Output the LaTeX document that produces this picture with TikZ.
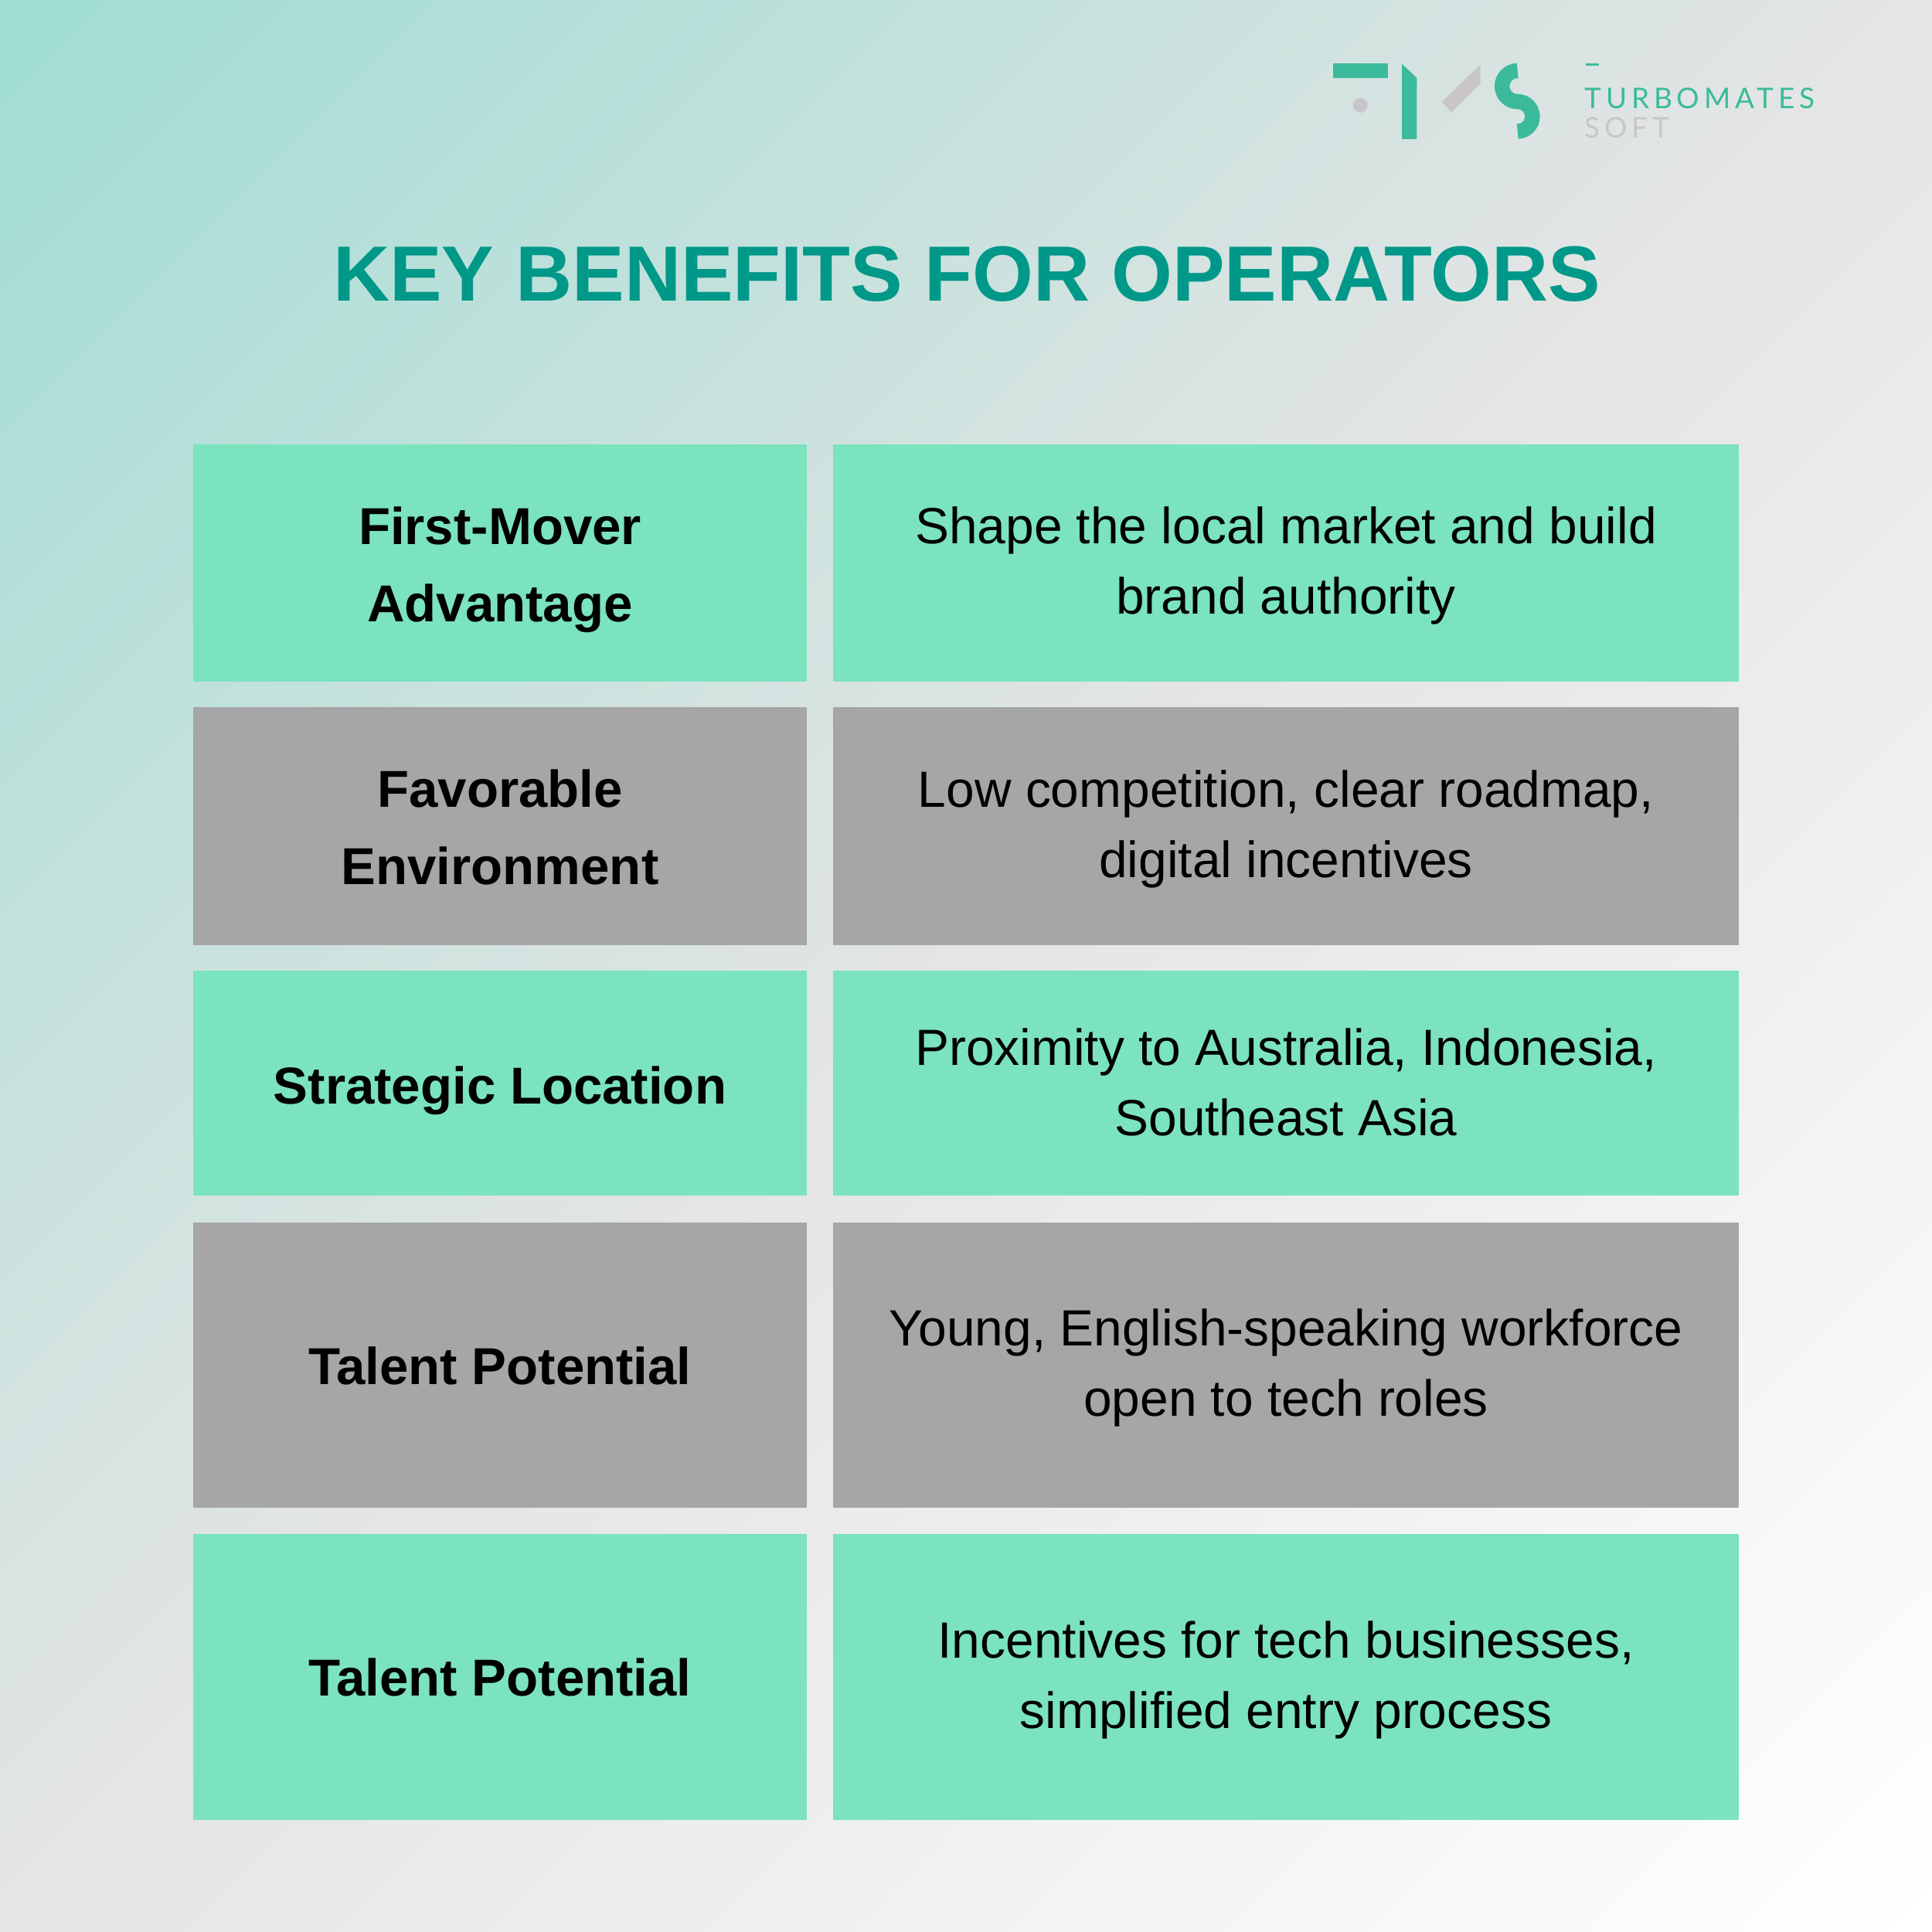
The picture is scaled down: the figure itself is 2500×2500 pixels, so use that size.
\documentclass[tikz,border=0pt]{standalone}
\usepackage{fontspec}
\setmainfont{Liberation Sans}
\newfontfamily\logofont[LetterSpace=16]{Lato}
\definecolor{boxgreen}{HTML}{7BE3BE}
\definecolor{boxgray}{HTML}{A6A6A6}
\definecolor{titleteal}{HTML}{009888}
\definecolor{logogreen}{HTML}{3BBB9B}
\definecolor{logogray}{HTML}{C9C5C9}
\definecolor{bgstart}{HTML}{9FDDD3}
\definecolor{bgmid}{HTML}{E5E5E5}
\pgfdeclareverticalshading{bgshade}{100bp}{
  color(0bp)=(white); color(14.6bp)=(white); color(50bp)=(bgmid); color(85.4bp)=(bgstart); color(100bp)=(bgstart)}
\tikzset{
  x=0.02cm,y=-0.02cm,
  cellbox/.style={rectangle,draw=none,inner sep=0pt,outer sep=0pt},
  leftbox/.style={cellbox,minimum width=15.88cm},
  rightbox/.style={cellbox,minimum width=23.44cm},
  headtext/.style={inner sep=0pt,align=center,text=black,font=\fontsize{38.25pt}{56.9pt}\selectfont\bfseries},
  bodytext/.style={inner sep=0pt,align=center,text=black,font=\fontsize{37.5pt}{51.8pt}\selectfont},
  logotextgreen/.style={inner sep=0pt,anchor=base west,text=logogreen,font=\fontsize{21pt}{24pt}\logofont},
  logotextgray/.style={inner sep=0pt,anchor=base west,text=logogray,font=\fontsize{21pt}{24pt}\logofont},
}
\begin{document}
\begin{tikzpicture}
\useasboundingbox (0,0) rectangle (2500,2500);
\shade[shading=bgshade,shading angle=45] (0,0) rectangle (2500,2500);
% logo
\fill[logogreen] (1725,82) rectangle (1796,101);
\fill[logogray] (1760.3,136.3) circle[radius=9.5];
\fill[logogreen] (1814,82.7) -- (1833.3,100.7) -- (1833.3,180) -- (1814,180) -- cycle;
\fill[logogray] (1915.7,83.3) -- (1915.7,107.7) -- (1878,145.3) -- (1865.7,131.7) -- cycle;
\draw[logogreen,line width=0.39cm] (1963.7,91.5) arc[start angle=270,end angle=90,radius=20] arc[start angle=-90,end angle=90,radius=19.2];
\fill[logogreen] (2052,82) rectangle (2069,85);
\node[logotextgreen] (logoA) at (2050,141) {TURBOMATES};
\node[logotextgray] (logoB) at (2050,179) {SOFT};
% title
\node[inner sep=0pt,anchor=base,text=titleteal,font=\fontsize{57.65pt}{68pt}\selectfont\bfseries] (title) at (1251,390) {KEY BENEFITS FOR OPERATORS};
% boxes
\node[leftbox,fill=boxgreen,minimum height=6.14cm] (a1) at (647,728.5) {};
\node[rightbox,fill=boxgreen,minimum height=6.14cm] (b1) at (1664,728.5) {};
\node[leftbox,fill=boxgray,minimum height=6.16cm] (a2) at (647,1069) {};
\node[rightbox,fill=boxgray,minimum height=6.16cm] (b2) at (1664,1069) {};
\node[leftbox,fill=boxgreen,minimum height=5.82cm] (a3) at (647,1401.5) {};
\node[rightbox,fill=boxgreen,minimum height=5.82cm] (b3) at (1664,1401.5) {};
\node[leftbox,fill=boxgray,minimum height=7.38cm] (a4) at (647,1766.5) {};
\node[rightbox,fill=boxgray,minimum height=7.38cm] (b4) at (1664,1766.5) {};
\node[leftbox,fill=boxgreen,minimum height=7.40cm] (a5) at (647,2170) {};
\node[rightbox,fill=boxgreen,minimum height=7.40cm] (b5) at (1664,2170) {};
% texts
\node[headtext] (ta1) at (647,734.5) {\strut First-Mover\\\strut Advantage};
\node[headtext] (ta2) at (647,1074.5) {\strut Favorable\\\strut Environment};
\node[headtext] (ta3) at (647,1408) {\strut Strategic Location};
\node[headtext] (ta4) at (647,1771) {\strut Talent Potential};
\node[headtext] (ta5) at (647,2174) {\strut Talent Potential};
\node[bodytext] (tb1) at (1664,731) {\strut Shape the local market and build\\\strut brand authority};
\node[bodytext] (tb2) at (1664,1071.5) {\strut Low competition, clear roadmap,\\\strut digital incentives};
\node[bodytext] (tb3) at (1664,1405.5) {\strut Proximity to Australia, Indonesia,\\\strut Southeast Asia};
\node[bodytext] (tb4) at (1664,1768.5) {\strut Young, English-speaking workforce\\\strut open to tech roles};
\node[bodytext] (tb5) at (1664,2172.5) {\strut Incentives for tech businesses,\\\strut simplified entry process};
\end{tikzpicture}
\end{document}
